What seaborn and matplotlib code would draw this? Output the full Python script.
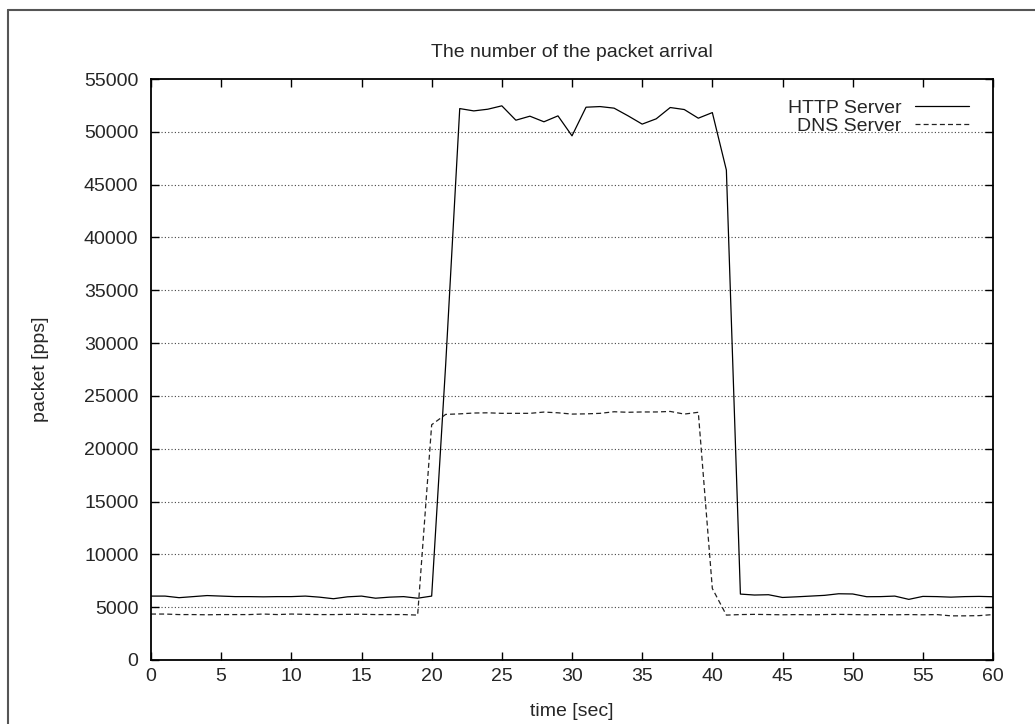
import matplotlib
matplotlib.use('Agg')
import matplotlib.pyplot as plt
import matplotlib.lines as mlines
import numpy as np
import pandas as pd
import seaborn as sns

# time axis, one sample per second
t = list(range(0, 61))

http_pps = [6050, 6050, 5900, 6000, 6100, 6050, 6000, 6000, 5980, 6000,
            6000, 6050, 5950, 5800, 5980, 6050, 5850, 5950, 6000, 5850,
            6050, 28000, 52200, 51980, 52140, 52460, 51100, 51480, 50950, 51510,
            49620, 52330, 52390, 52240, 51510, 50730, 51230, 52300, 52110, 51290,
            51820, 46380, 6240, 6150, 6180, 5920, 5980, 6050, 6120, 6270,
            6250, 5990, 6000, 6050, 5740, 6020, 6000, 5950, 6000, 6020,
            5990]

dns_pps = [4350, 4350, 4300, 4300, 4280, 4300, 4300, 4300, 4350, 4300,
           4350, 4320, 4300, 4300, 4320, 4330, 4300, 4300, 4300, 4250,
           22270, 23250, 23300, 23380, 23400, 23350, 23350, 23350, 23470, 23400,
           23280, 23300, 23350, 23500, 23450, 23480, 23480, 23530, 23280, 23450,
           6770, 4250, 4300, 4320, 4300, 4280, 4300, 4280, 4300, 4320,
           4300, 4280, 4300, 4280, 4300, 4280, 4300, 4180, 4180, 4200,
           4300]

df = pd.DataFrame({'time': t, 'http': http_pps, 'dns': dns_pps})

sns.set_style('ticks')
plt.rcParams['font.family'] = ['Liberation Sans', 'DejaVu Sans']
fs = 14

fig = plt.figure(figsize=(10.35, 7.24), dpi=100)
ax = fig.add_axes([151 / 1035, 1 - 660 / 724, (993 - 151) / 1035, (660 - 79) / 724])

sns.lineplot(data=df, x='time', y='http', ax=ax, color='black', linewidth=0.9)
sns.lineplot(data=df, x='time', y='dns', ax=ax, color='#222222', linewidth=0.9,
             dashes=False)
ax.lines[1].set_dashes([4, 2.5])

ax.set_xlim(0, 60)
ax.set_ylim(0, 55000)
ax.set_xticks(range(0, 61, 5))
ax.set_yticks(range(0, 55001, 5000))
for yv in range(5000, 55000, 5000):
    ax.axhline(yv, color='#444444', linestyle=(0, (1, 2)), linewidth=0.8, zorder=0)

ax.tick_params(direction='in', length=6, width=1, labelsize=fs, color='black',
               top=True, right=True)
ax.tick_params(axis='y', pad=9)
ax.tick_params(axis='x', pad=6)
for sp in ax.spines.values():
    sp.set_linewidth(1.3)
    sp.set_color('black')

ax.set_title('The number of the packet arrival', fontsize=fs, pad=16)
ax.set_xlabel('time [sec]', fontsize=fs, labelpad=13)
ax.set_ylabel('packet [pps]', fontsize=fs, labelpad=25)

h1 = mlines.Line2D([], [], color='black', linewidth=0.9)
h2 = mlines.Line2D([], [], color='#222222', linewidth=0.9, dashes=[4, 2.5])
ax.legend([h1, h2], ['HTTP Server', 'DNS Server'], loc='upper right',
          bbox_to_anchor=(1 - 10 / 842, 1 - 7 / 581),
          frameon=False, markerfirst=False, fontsize=fs, handlelength=2.8,
          labelspacing=0.0, borderaxespad=0.3, handletextpad=0.7)

# outer frame (cropped screenshot border)
fig.add_artist(mlines.Line2D([8 / 1035, 8 / 1035], [0, 1 - 9.5 / 724],
                             transform=fig.transFigure, color='#555555', linewidth=1.5))
fig.add_artist(mlines.Line2D([8 / 1035, 1], [1 - 9.5 / 724, 1 - 9.5 / 724],
                             transform=fig.transFigure, color='#555555', linewidth=1.5))

fig.savefig('out.png', dpi=100)
